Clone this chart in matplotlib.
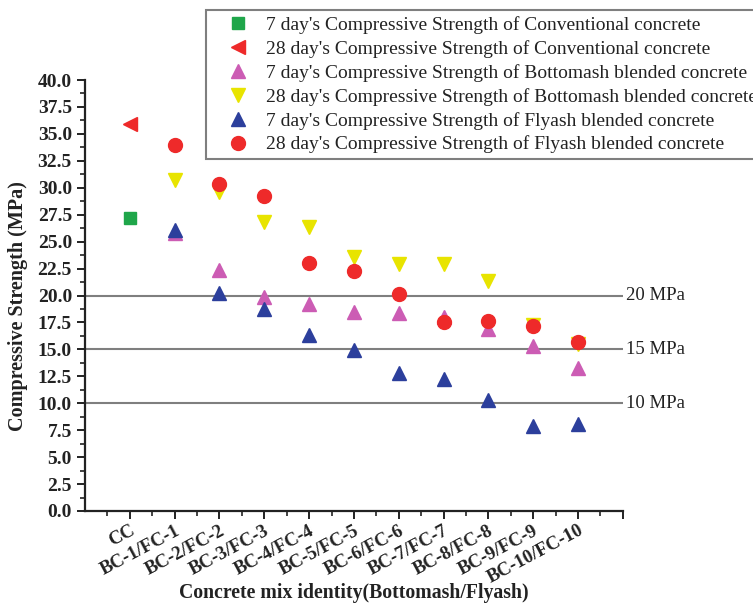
import numpy as np
import matplotlib.pyplot as plt
from matplotlib.transforms import ScaledTranslation

plt.rcParams['font.family'] = 'Liberation Serif'

mixes = ['CC', 'BC-1/FC-1', 'BC-2/FC-2', 'BC-3/FC-3', 'BC-4/FC-4', 'BC-5/FC-5',
         'BC-6/FC-6', 'BC-7/FC-7', 'BC-8/FC-8', 'BC-9/FC-9', 'BC-10/FC-10']

# conventional concrete (CC only)
cc_7day = [27.2]
cc_28day = [35.9]

# blended mixes BC-1/FC-1 .. BC-10/FC-10
bottomash_7day = [25.8, 22.4, 19.9, 19.2, 18.5, 18.4, 18.0, 16.9, 15.3, 13.3]
bottomash_28day = [30.7, 29.6, 26.85, 26.35, 23.6, 22.95, 22.9, 21.3, 17.3, 15.5]
flyash_7day = [26.1, 20.2, 18.75, 16.3, 14.97, 12.85, 12.25, 10.3, 7.9, 8.1]
flyash_28day = [34.0, 30.35, 29.2, 23.05, 22.3, 20.1, 17.57, 17.66, 17.2, 15.7]

ref_levels = [20, 15, 10]


def plot_strength():
    fig = plt.figure(figsize=(7.53, 6.03), dpi=100)
    ax = fig.add_axes([0.113, 0.1526, 0.714, 0.7147])

    for lvl in ref_levels:
        ax.axhline(lvl, color='#7f7f7f', lw=1.5, zorder=1)
        ax.text(1.006, lvl, f'{lvl} MPa', transform=ax.get_yaxis_transform(),
                ha='left', va='center', fontsize=13.5, color='#222222')

    x_cc = np.arange(len(cc_7day))
    x_bl = np.arange(1, len(mixes))

    ax.plot(x_cc, cc_7day, 's', color='#1fa64a', ms=9, ls='none',
            label="7 day's Compressive Strength of Conventional concrete", zorder=3)
    ax.plot(x_cc, cc_28day, '<', color='#ee2a2a', ms=10, ls='none',
            label="28 day's Compressive Strength of Conventional concrete", zorder=3)
    ax.plot(x_bl, bottomash_7day, '^', color='#cc5cb4', ms=10, ls='none',
            label="7 day's Compressive Strength of Bottomash blended concrete", zorder=3)
    ax.plot(x_bl, bottomash_28day, 'v', color='#e8e400', ms=10, ls='none',
            label="28 day's Compressive Strength of Bottomash blended concrete", zorder=3)
    ax.plot(x_bl, flyash_7day, '^', color='#2c3f9c', ms=10, ls='none',
            label="7 day's Compressive Strength of Flyash blended concrete", zorder=3)
    ax.plot(x_bl, flyash_28day, 'o', color='#ee2a2a', ms=10, ls='none',
            label="28 day's Compressive Strength of Flyash blended concrete", zorder=3)

    ax.set_xlim(-1, 11)
    ax.set_ylim(0, 40)
    ax.set_yticks(np.arange(0, 40.1, 2.5))
    ax.set_yticks(np.arange(1.25, 40, 2.5), minor=True)
    ax.set_yticklabels([f'{v:.1f}' for v in np.arange(0, 40.1, 2.5)],
                       fontsize=14, fontweight='bold')
    ax.set_xticks(list(range(len(mixes))) + [11])
    ax.set_xticks(np.arange(-0.5, 11, 1), minor=True)
    ax.set_xticklabels(mixes + [''], fontsize=13.5, fontweight='bold',
                       rotation=28, ha='right', va='top', rotation_mode='anchor')
    # nudge the slanted labels so they end just right of their ticks
    for lab in ax.get_xticklabels():
        lab.set_transform(lab.get_transform() + ScaledTranslation(0.09, 0.09, fig.dpi_scale_trans))

    ax.spines['top'].set_visible(False)
    ax.spines['right'].set_visible(False)
    for sp in ('left', 'bottom'):
        ax.spines[sp].set_linewidth(1.6)
        ax.spines[sp].set_color('#222222')
    ax.tick_params(which='major', length=6, width=1.4, color='#222222', labelcolor='#222222')
    ax.tick_params(which='minor', length=3.5, width=1.2, color='#222222')
    ax.tick_params(axis='x', which='major', pad=2)

    ax.set_xlabel('Concrete mix identity(Bottomash/Flyash)', fontsize=14.2,
                  fontweight='bold', color='#222222')
    ax.xaxis.set_label_coords(0.5, -0.19)
    ax.xaxis.label.set_va('center')
    ax.set_ylabel('Compressive Strength (MPa)', fontsize=14.5,
                  fontweight='bold', color='#222222')
    ax.yaxis.set_label_coords(-0.125, 0.475)
    ax.yaxis.label.set_va('center')

    # legend box runs off the right edge of the figure
    leg = ax.legend(loc='upper left', bbox_to_anchor=(0.2736, 0.983),
                    bbox_transform=fig.transFigure, borderaxespad=0,
                    fontsize=14, frameon=True, fancybox=False, framealpha=1,
                    edgecolor='#7f7f7f', handletextpad=0.1, labelspacing=0.31,
                    borderpad=0.3, handlelength=2.7)
    leg.get_frame().set_linewidth(1.5)
    leg.set_zorder(5)
    for t in leg.get_texts():
        t.set_color('#222222')

    fig.savefig('out.png', dpi=100)


plot_strength()
